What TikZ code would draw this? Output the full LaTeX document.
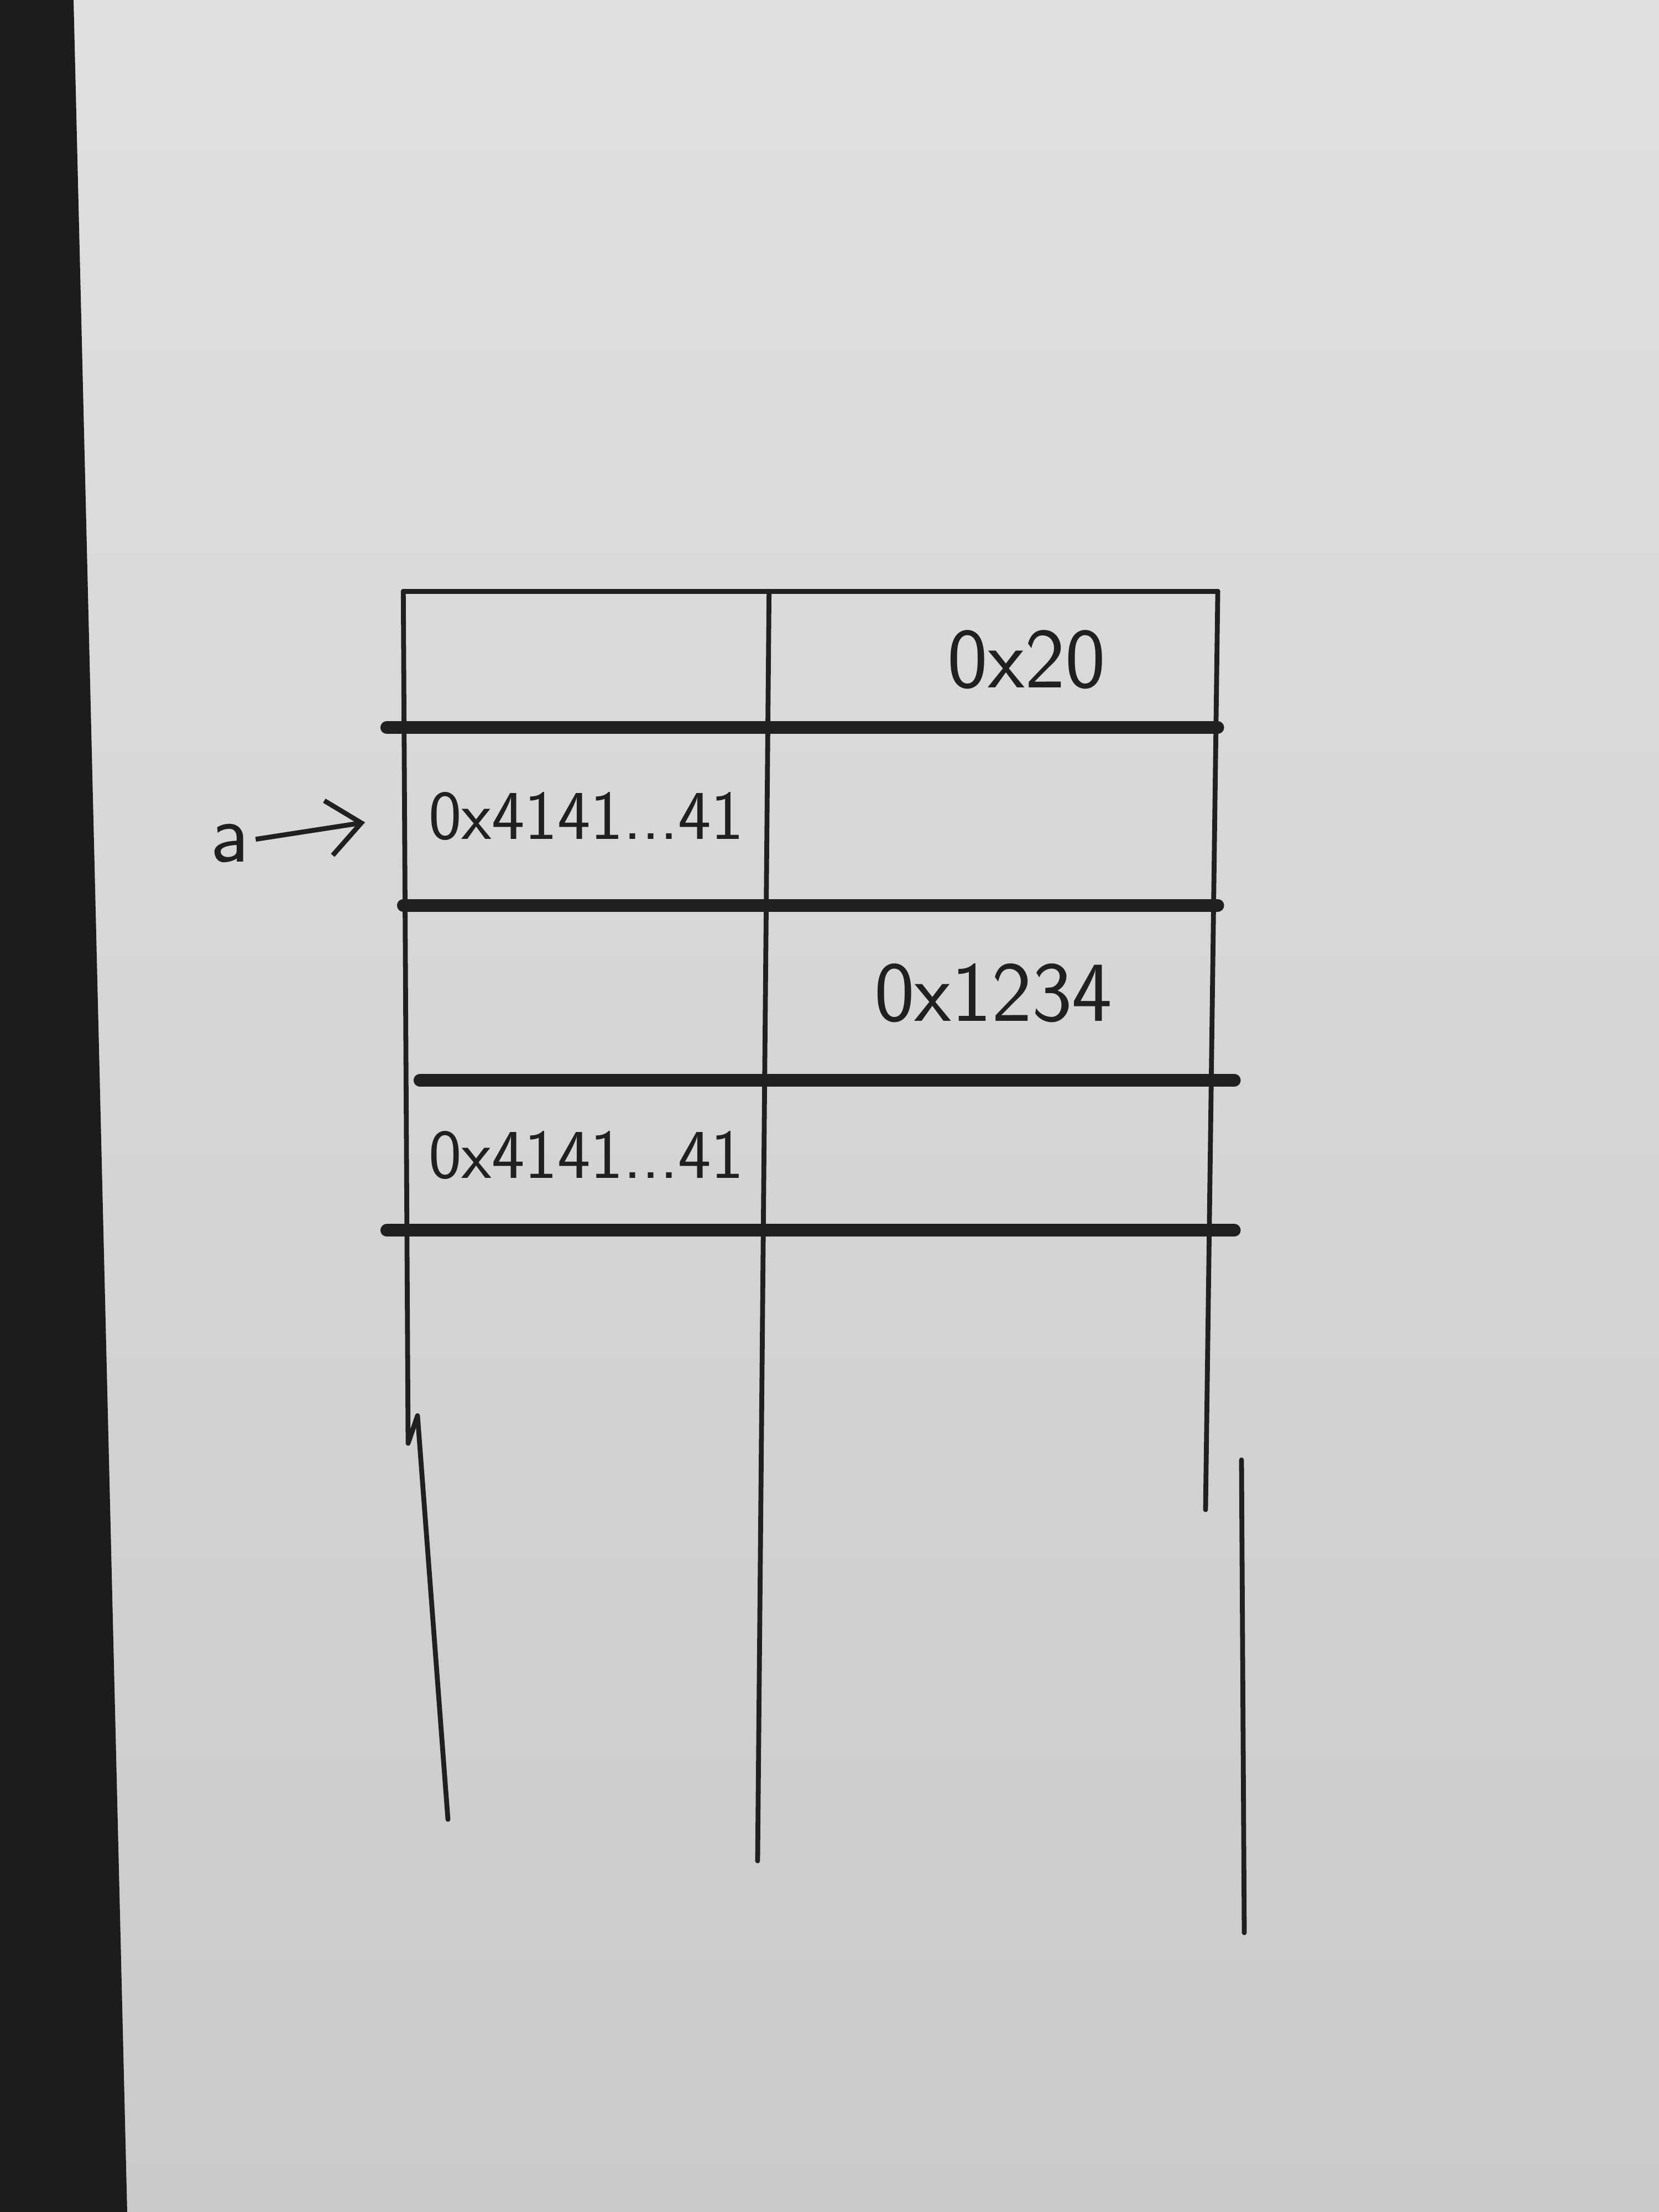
\documentclass[tikz,border=0pt]{standalone}
\usepackage{tikz}
\usetikzlibrary{arrows.meta,positioning}
\definecolor{papertop}{HTML}{E0E0DE}
\definecolor{paperbot}{HTML}{CACAC8}
\definecolor{desk}{HTML}{1C1C1C}
\definecolor{ink}{HTML}{202020}
\tikzset{
  cell/.style={rectangle,inner sep=0pt,minimum width=6.6cm,font=\sffamily\fontsize{36}{42}\selectfont,text=ink},
  widecell/.style={cell,minimum width=8.1cm,font=\sffamily\fontsize{44}{50}\selectfont},
  rowline/.style={draw=ink,line width=6.5pt,line cap=round},
  colline/.style={draw=ink,line width=2.5pt,line cap=round,line join=round},
  pointer/.style={-{Straight Barb[length=6mm,width=10mm]},draw=ink,line width=2.5pt,shorten >=7mm}
}
\begin{document}
\begin{tikzpicture}
% paper and desk edge
\shade[top color=papertop,bottom color=paperbot] (0,0) rectangle (30,40);
\fill[desk] (0,0) -- (2.3,0) -- (1.33,40) -- (0,40) -- cycle;
% cells
\node[cell,minimum height=2.45cm] (r1l) at (10.6,28.075) {};
\node[widecell,minimum height=2.45cm,right=0pt of r1l] (r1r) {\hspace*{1.2cm}0x20};
\node[cell,minimum height=3.2cm,below=0pt of r1l] (r2l) {0x4141...41};
\node[widecell,minimum height=3.2cm,right=0pt of r2l] (r2r) {};
\node[cell,minimum height=3.15cm,below=0pt of r2l] (r3l) {};
\node[widecell,minimum height=3.15cm,right=0pt of r3l] (r3r) {0x1234};
\node[cell,minimum height=2.7cm,below=0pt of r3l] (r4l) {0x4141...41};
\node[widecell,minimum height=2.7cm,right=0pt of r4l] (r4r) {};
% pointer
\node[font=\sffamily\fontsize{44}{50}\selectfont,text=ink] (ptr) at (4.15,24.75) {a};
\draw[pointer] (ptr) -- (r2l.west);
% free ends of the columns
\coordinate (ljog) at (7.38,13.9);
\coordinate (ljog2) at (7.55,14.4);
\coordinate (lbot) at (8.1,7.1);
\coordinate (mbot) at (13.7,6.35);
\coordinate (rbrk) at (21.8,12.7);
\coordinate (rtop2) at (22.45,13.6);
\coordinate (rbot) at (22.5,5.05);
% rows
\draw[colline] (r1l.north west) -- (r1r.north east);
\draw[rowline] ([xshift=-3mm]r1l.south west) -- (r1r.south east);
\draw[rowline] (r2l.south west) -- (r2r.south east);
\draw[rowline] ([xshift=3mm]r3l.south west) -- ([xshift=3mm]r3r.south east);
\draw[rowline] ([xshift=-3mm]r4l.south west) -- ([xshift=3mm]r4r.south east);
% columns
\draw[colline] (r1l.north west) -- (ljog) -- (ljog2) -- (lbot);
\draw[colline] (r1l.north east) -- (mbot);
\draw[colline] (r1r.north east) -- (rbrk);
\draw[colline] (rtop2) -- (rbot);
\end{tikzpicture}
\end{document}
